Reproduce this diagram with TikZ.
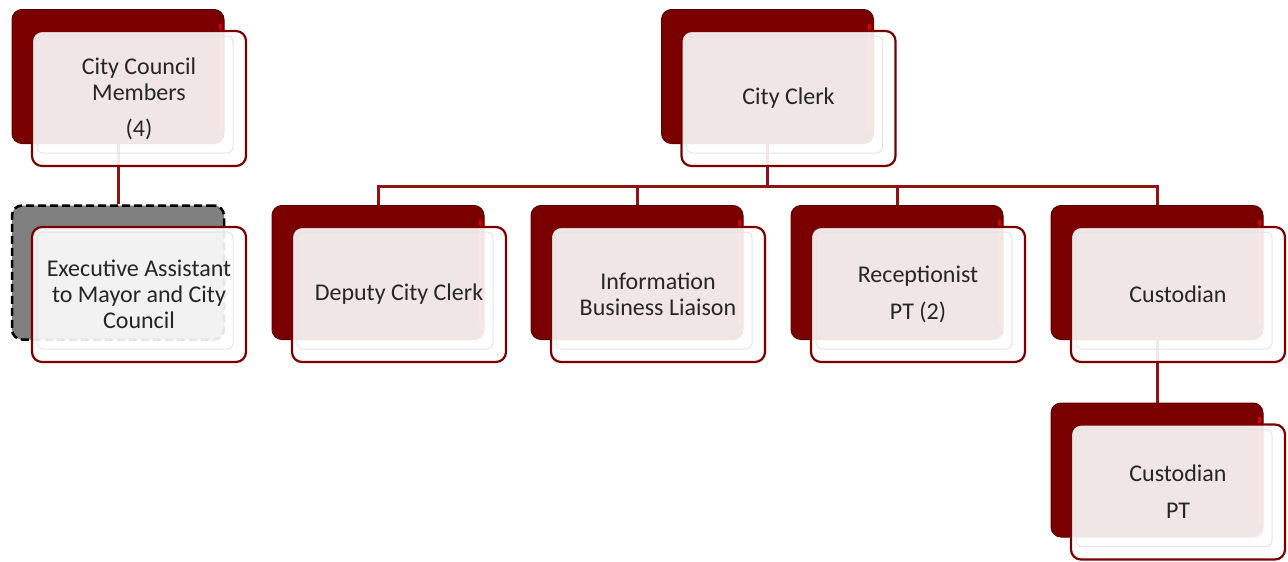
\documentclass[tikz,border=0pt]{standalone}
\usepackage{fontspec}
\setmainfont{Carlito}
\usetikzlibrary{backgrounds}
\definecolor{boxred}{RGB}{122,0,0}
\definecolor{linered}{RGB}{145,18,18}
\tikzset{
  backbox/.style={draw=boxred!75!black, fill=boxred, rounded corners=10pt,
    minimum width=212pt, minimum height=134pt, inner sep=0pt, line width=1pt,
    path picture={\draw[red!70!boxred, line width=3pt]
      ([shift={(-4pt,-14pt)}]path picture bounding box.north east) --
      ([shift={(-4pt,14pt)}]path picture bounding box.south east);}},
  frontbox/.style={draw=boxred, line width=2.2pt, fill=white, fill opacity=0.9,
    text opacity=1, rounded corners=10pt, minimum width=214pt,
    minimum height=135pt, inner sep=0pt, align=center, text=black!85,
    font=\fontsize{24}{26}\selectfont,
    path picture={\draw[black!10, line width=1pt, rounded corners=6pt]
      ([shift={(5pt,-5pt)}]path picture bounding box.north west) rectangle
      ([shift={(-13pt,13pt)}]path picture bounding box.south east);}},
  link/.style={draw=linered, line width=3pt}
}
\begin{document}
\begin{tikzpicture}[x=1pt, y=-1pt]
\useasboundingbox (0,0) rectangle (1288,562);
%back boxes
\node[backbox] (b-council) at (118,76.5) {};
\node[backbox] (b-clerk) at (767.5,76.5) {};
\node[backbox, fill=gray, draw=black, dash pattern=on 8pt off 4pt,
  line width=2.5pt, path picture={}] (b-exec) at (118,272.5) {};
\foreach \nm/\x in {deputy/378, info/637, recep/897, cust/1157}
  \node[backbox] (b-\nm) at (\x,272.5) {};
\node[backbox] (b-custpt) at (1157,470) {};
%front boxes
\node[frontbox] (council) at ([shift={(21,22)}]b-council) {City Council\\Members\\[10pt](4)};
\node[frontbox] (clerk) at ([shift={(21,22)}]b-clerk) {City Clerk};
\node[frontbox] (exec) at ([shift={(21,22)}]b-exec) {Executive Assistant\\to Mayor and City\\Council};
\foreach \nm/\txt in {deputy/{Deputy City Clerk}, info/{Information\\Business Liaison},
    recep/{Receptionist\\[11pt]PT (2)}, cust/Custodian}
  \node[frontbox] (\nm) at ([shift={(21,22)}]b-\nm) {\txt};
\node[frontbox] (custpt) at ([shift={(21,22)}]b-custpt) {Custodian\\[11pt]PT};
%links
\begin{scope}[on background layer]
\draw[link] (b-council.south) -- (b-exec.north);
\draw[link] (b-clerk.south) -- ++(0,42) coordinate (bus);
\foreach \nm in {deputy,info,recep,cust}
  \draw[link] (bus) -| (b-\nm.north);
\draw[link] (b-cust.south) -- (b-custpt.north);
\end{scope}
\end{tikzpicture}
\end{document}
